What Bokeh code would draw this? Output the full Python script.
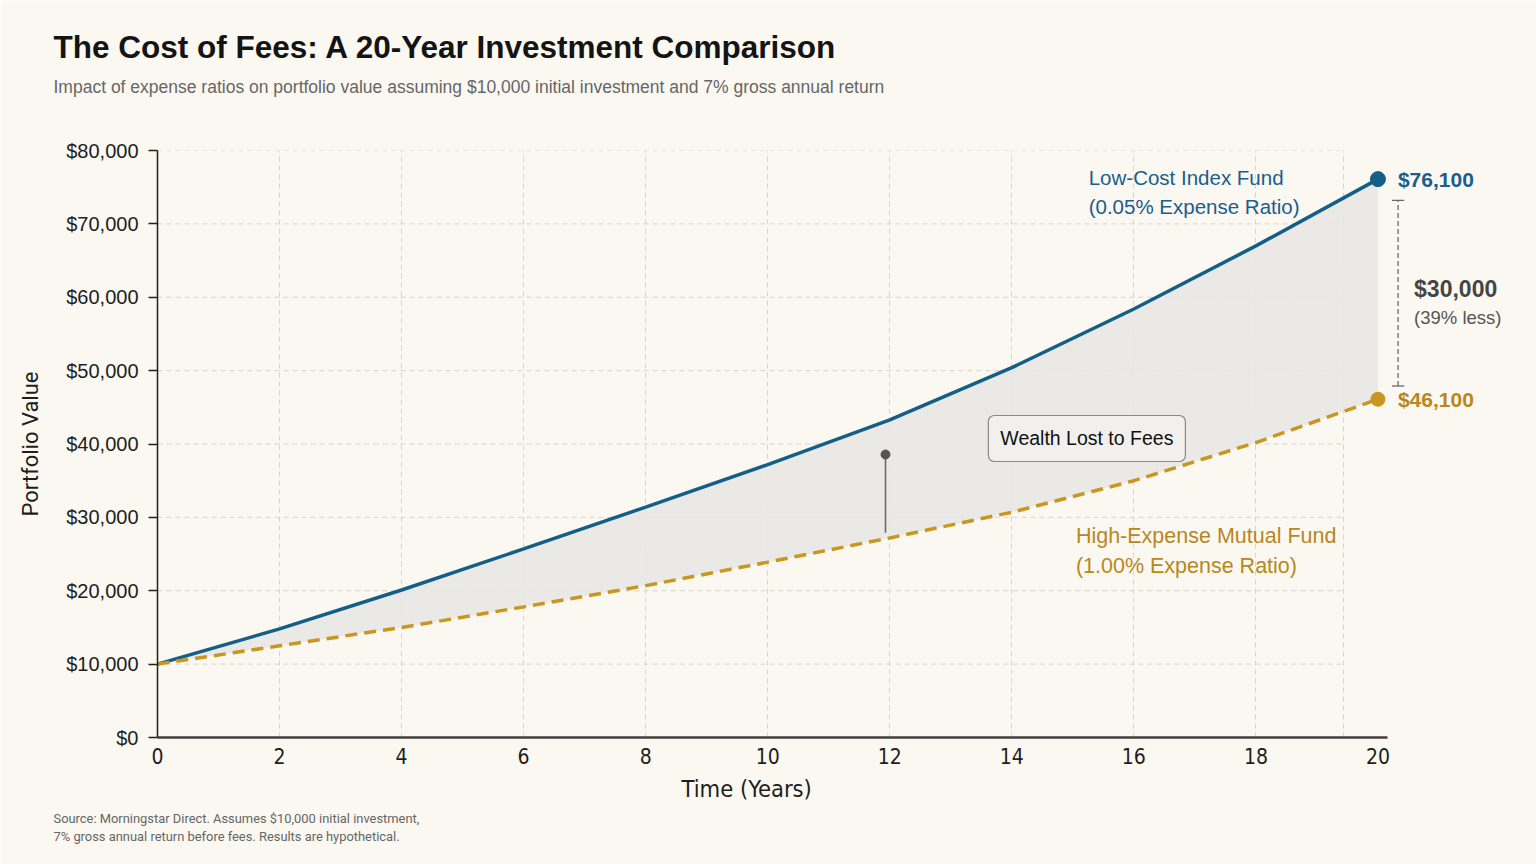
from bokeh.plotting import figure
from bokeh.models import Range1d, FixedTicker, Label, NumeralTickFormatter, Title
from bokeh.embed import file_html
from bokeh.resources import INLINE

# ---- data -------------------------------------------------------------
years = [0, 2, 4, 6, 8, 10, 12, 14, 16, 18, 20]
low_cost = [10000, 14800, 20100, 25700, 31400, 37200, 43300, 50400, 58400, 67000, 76100]
high_expense = [10000, 12500, 15000, 17800, 20700, 23900, 27200, 30700, 35000, 40200, 46100]

x_ticks = [0, 2, 4, 6, 8, 10, 12, 14, 16, 18, 20]
y_ticks = [0, 10000, 20000, 30000, 40000, 50000, 60000, 70000, 80000]

low_name = ["Low-Cost Index Fund", "(0.05% Expense Ratio)"]
high_name = ["High-Expense Mutual Fund", "(1.00% Expense Ratio)"]

title_text = "The Cost of Fees: A 20-Year Investment Comparison"
subtitle_text = ("Impact of expense ratios on portfolio value assuming $10,000 initial "
                 "investment and 7% gross annual return")
x_title = "Time (Years)"
y_title = "Portfolio Value"
source_lines = ["Source: Morningstar Direct. Assumes $10,000 initial investment,",
                "7% gross annual return before fees. Results are hypothetical."]

# ---- style ------------------------------------------------------------
BG = "#faf8f1"
BLUE = "#135f88"
BLUE_TXT = "#1b5e8c"
GOLD = "#c9961f"
GOLD_TXT = "#b9871c"
GRID = "#d6d4cd"
INK = "#1e1e1e"
COND = "DejaVu Sans Condensed, Roboto"
SANS = "Liberation Sans"

W, H = 1536, 864
FRAME_L, FRAME_R, FRAME_T, FRAME_B = 157, 1530, 150, 737
GRID_END = 19.43

p = figure(
    width=W, height=H,
    x_range=Range1d(0, 22.5), y_range=Range1d(0, 80000),
    min_border_left=FRAME_L, min_border_right=W - FRAME_R,
    min_border_top=FRAME_T, min_border_bottom=H - FRAME_B,
    output_backend="svg", toolbar_location=None, title_location=None,
    background_fill_color=BG, border_fill_color=BG, outline_line_color=None,
)

# grid
p.ygrid.visible = False
p.xgrid.ticker = FixedTicker(ticks=x_ticks[1:-1] + [GRID_END])
p.xgrid.grid_line_color = GRID
p.xgrid.grid_line_dash = "5 4"
p.xgrid.grid_line_width = 1
p.segment(x0=[0] * (len(y_ticks) - 1), x1=[GRID_END] * (len(y_ticks) - 1),
          y0=y_ticks[1:], y1=y_ticks[1:], line_color=GRID, line_dash="5 4", line_width=1)

# axes
p.xaxis.ticker = FixedTicker(ticks=x_ticks)
p.xaxis.bounds = (x_ticks[0], x_ticks[-1] + 0.15)
p.xaxis.axis_line_color = "#404040"
p.xaxis.axis_line_width = 2.5
p.xaxis.major_tick_out = 0
p.xaxis.major_tick_in = 0
p.xaxis.minor_tick_line_color = None
p.xaxis.major_label_standoff = 10
p.xaxis.major_label_text_font = COND
p.xaxis.major_label_text_font_size = "21px"
p.xaxis.major_label_text_color = INK

p.yaxis.ticker = FixedTicker(ticks=y_ticks)
p.yaxis.formatter = NumeralTickFormatter(format="$0,0")
p.yaxis.axis_line_color = INK
p.yaxis.axis_line_width = 1.5
p.yaxis.major_tick_line_color = INK
p.yaxis.major_tick_line_width = 1.5
p.yaxis.major_tick_out = 9
p.yaxis.major_tick_in = 0
p.yaxis.minor_tick_line_color = None
p.yaxis.major_label_standoff = 10
p.yaxis.major_label_text_font = SANS
p.yaxis.major_label_text_font_size = "20px"
p.yaxis.major_label_text_color = INK
p.yaxis.axis_label = y_title
p.yaxis.axis_label_text_font = "Roboto"
p.yaxis.axis_label_text_font_size = "22px"
p.yaxis.axis_label_text_font_style = "normal"
p.yaxis.axis_label_text_color = INK
p.yaxis.axis_label_standoff = 20

# shaded gap between the two funds
p.varea(x=years, y1=high_expense, y2=low_cost, fill_color="#e8e7e4", fill_alpha=0.9)

# pointer into the shaded gap
PTR_X = 11.93
p.segment(x0=[PTR_X], x1=[PTR_X], y0=[27900], y1=[38570], line_color="#6a6a6a", line_width=1.6)
p.scatter(x=[PTR_X], y=[38570], size=9, color="#555555")

# fund lines
p.line(years, low_cost, line_color=BLUE, line_width=3.5)
p.line(years, high_expense, line_color=GOLD, line_width=3.5, line_dash="12 7")
p.scatter(x=[years[-1]], y=[low_cost[-1]], size=15, color=BLUE)
p.scatter(x=[years[-1]], y=[high_expense[-1]], size=14, color=GOLD)

end_low, end_high = low_cost[-1], high_expense[-1]
gap = end_low - end_high
pct = round(100 * gap / end_low)

p.add_layout(Label(x=years[-1], y=end_low, x_offset=20, text=f"${end_low:,.0f}",
                   text_baseline="middle", text_font=SANS, text_font_size="21px",
                   text_font_style="bold", text_color=BLUE_TXT))
p.add_layout(Label(x=years[-1], y=end_high, x_offset=20, text=f"${end_high:,.0f}",
                   text_baseline="middle", text_font=SANS, text_font_size="21px",
                   text_font_style="bold", text_color=GOLD_TXT))

# bracket showing the difference
BR_X = years[-1] + 0.33
br_top, br_bot = end_low - 2900, end_high + 1800
p.segment(x0=[BR_X], x1=[BR_X], y0=[br_bot], y1=[br_top], line_color="#6a6a6a",
          line_width=1.3, line_dash="5 3")
p.segment(x0=[BR_X - 0.1, BR_X - 0.1], x1=[BR_X + 0.1, BR_X + 0.1],
          y0=[br_top, br_bot], y1=[br_top, br_bot], line_color="#6a6a6a", line_width=1.3)
mid = (end_low + end_high) / 2
p.add_layout(Label(x=BR_X, y=mid, x_offset=16, text=f"${gap:,.0f}", text_baseline="middle",
                   text_font=SANS, text_font_size="23px", text_font_style="bold",
                   text_color="#454545"))
p.add_layout(Label(x=BR_X, y=mid, x_offset=16, y_offset=-28, text=f"({pct}% less)",
                   text_baseline="middle", text_font=SANS, text_font_size="18.5px",
                   text_color="#555555"))

# series names
for i, line in enumerate(low_name):
    p.add_layout(Label(x=15.26, y=76300, y_offset=-29 * i, text=line, text_baseline="middle",
                       text_font=SANS, text_font_size="20.5px", text_color=BLUE_TXT))
for i, line in enumerate(high_name):
    p.add_layout(Label(x=15.05, y=27500, y_offset=-30 * i, text=line, text_baseline="middle",
                       text_font=SANS, text_font_size="21.5px", text_color=GOLD_TXT))

# callout box
p.add_layout(Label(x=15.23, y=40750, text="Wealth Lost to Fees", text_align="center",
                   text_baseline="middle", text_font=SANS, text_font_size="19.5px",
                   text_color="#111111", padding=12, border_radius=6,
                   background_fill_color="#f1f0ed", background_fill_alpha=1,
                   border_line_color="#8a8a8a", border_line_width=1.2))

# titles (the first one added sits closest to the plot area)
p.add_layout(Title(text=" ", align="left", standoff=36, text_font_size="10px"), "above")
p.add_layout(Title(text=subtitle_text, align="left", offset=53 - FRAME_L, standoff=10,
                   text_font=SANS, text_font_size="17.5px", text_font_style="normal",
                   text_color="#666666"), "above")
p.add_layout(Title(text=title_text, align="left", offset=53 - FRAME_L, standoff=10,
                   text_font=SANS, text_font_size="31.5px", text_font_style="bold",
                   text_color="#141414"), "above")

# x-axis caption, then the source note
p.add_layout(Title(text=x_title, align="left", offset=681 - FRAME_L, standoff=12,
                   text_font=COND, text_font_size="23.5px", text_font_style="normal",
                   text_color=INK), "below")
for line in source_lines:
    p.add_layout(Title(text=line, align="left", offset=53 - FRAME_L, standoff=1,
                       text_font="Roboto", text_font_size="12.9px", text_font_style="normal",
                       text_color="#666666"), "below")

open("out.html", "w").write(file_html(p, INLINE))
